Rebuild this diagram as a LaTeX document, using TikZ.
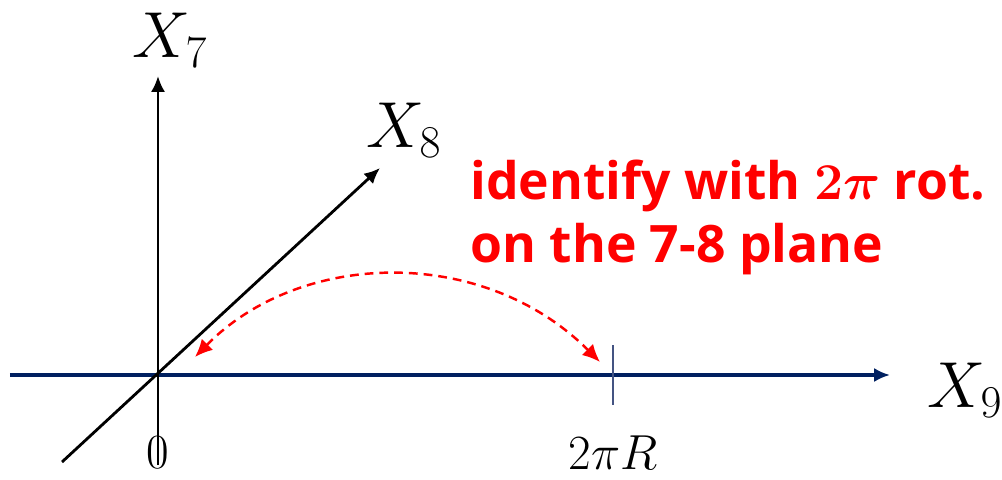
\RequirePackage{fix-cm}
\documentclass[tikz,border=0pt]{standalone}
\usepackage{fontspec}
\usepackage{amsmath}
\usepackage{bm}
\usetikzlibrary{arrows.meta}
\usetikzlibrary{math}
\newfontfamily\notefont{Open Sans}
\definecolor{axisnavy}{RGB}{0, 32, 96}
\definecolor{ticknavy}{RGB}{68, 84, 130}
\definecolor{notered}{RGB}{255, 0, 0}

\begin{document}
\begin{tikzpicture}[
  axis/.style={-{Latex[length=9pt,width=8pt]}, line width=1.6pt},
  navyaxis/.style={-{Latex[length=9pt,width=8pt]}, line width=1.8pt, color=axisnavy},
  tickmark/.style={line width=0.9pt, color=ticknavy},
  axislabel/.style={inner sep=0pt, font=\fontsize{37}{44}\selectfont},
  ticklabel/.style={inner sep=0pt, font=\fontsize{28}{34}\selectfont},
  notetext/.style={inner sep=0pt, anchor=base west, text=notered, font=\notefont\bfseries\fontsize{29.4}{35}\selectfont},
  identify/.style={{Latex[length=10pt,width=9pt]}-{Latex[length=10pt,width=9pt]}, dash pattern=on 5pt off 3.4pt, line width=1.4pt, color=notered}
]
\tikzmath{
\R=9.1;
\th=0.6;
}
\useasboundingbox (-3.16,-2.08) rectangle (16.88,7.5);

%%%%%%%%%% axes
\coordinate (O) at (0,0);
\coordinate (x9start) at (-2.96,0);
\coordinate (x9end) at (14.64,0);
\coordinate (x7start) at (0,-1.8);
\coordinate (x7end) at (0,5.98);
\coordinate (x8start) at (-1.92,-1.74);
\coordinate (x8end) at (4.44,4.14);

\draw[navyaxis] (x9start) -- (x9end);
\draw[axis] (x7start) -- (x7end);
\draw[axis] (x8start) -- (x8end);

\node[axislabel] (x7label) at (0.24,6.7) {$X_7$};
\node[axislabel] (x8label) at (4.92,4.9) {$X_8$};
\node[axislabel] (x9label) at (16.14,-0.3) {$X_9$};

%%%%%%%%%% tick at 2 pi R
\coordinate (ticktop) at (\R,\th);
\coordinate (tickbot) at (\R,-\th);
\draw[tickmark] (ticktop) -- (tickbot);
\node[ticklabel] (zero) at (0,-1.56) {$0$};
\node[ticklabel] (circ) at (\R,-1.56) {$2\pi R$};

%%%%%%%%%% identification
\coordinate (idstart) at (0.74,0.36);
\coordinate (idend) at (8.84,0.26);
\draw[identify] (idstart) .. controls (2.84,2.5) and (6.5,2.6) .. (idend);

\node[notetext] (noteone) at (6.24,3.5) {identify with $\bm{2\pi}$ rot.};
\node[notetext] (notetwo) at (6.24,2.26) {on the 7-8 plane};

\end{tikzpicture}
\end{document}
